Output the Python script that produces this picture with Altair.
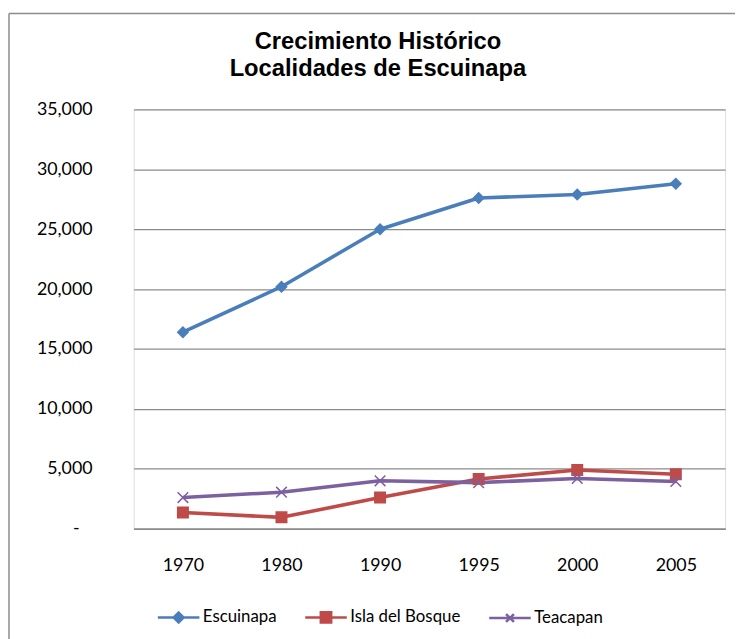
import altair as alt
import pandas as pd

years = ["1970", "1980", "1990", "1995", "2000", "2005"]
series_names = ["Escuinapa", "Isla del Bosque", "Teacapan"]
escuinapa = [16400, 20200, 25000, 27600, 27900, 28800]
isla_del_bosque = [1350, 950, 2600, 4150, 4900, 4550]
teacapan = [2600, 3050, 4000, 3850, 4200, 3950]
y_ticks = [0, 5000, 10000, 15000, 20000, 25000, 30000, 35000]

colors = ["#4A7EBB", "#BE4B48", "#7D60A0"]
marker_shapes = ["diamond", "square", "M-1,-1L1,1M-1,1L1,-1"]
marker_sizes = [110, 115, 150]
title_lines = ["Crecimiento Histórico", "Localidades de Escuinapa"]

rows = []
for name, vals in zip(series_names, [escuinapa, isla_del_bosque, teacapan]):
    for yr, v in zip(years, vals):
        rows.append({"Año": yr, "Localidad": name, "Marcador": name, "Población": v})
df = pd.DataFrame(rows)

W, H = 598, 424
PAD_L, PAD_T, PAD_R, PAD_B = 127, 99, 10, 108

color_scale = alt.Scale(domain=series_names, range=colors)

x_enc = alt.X("Año:O", sort=years, title=None,
              scale=alt.Scale(type="point", padding=0.5),
              axis=alt.Axis(labelAngle=0, ticks=False, grid=False, domain=True,
                            domainColor="#8c8c8c", domainWidth=1.3,
                            labelFont="Lato", labelFontSize=18, labelColor="#000",
                            labelPadding=28))
y_enc = alt.Y("Población:Q", title=None,
              scale=alt.Scale(domain=[0, 35000], nice=False, zero=True),
              axis=alt.Axis(values=y_ticks, grid=True, gridColor="#8c8c8c", gridWidth=1.3,
                            domain=False, ticks=False,
                            labelFont="Lato", labelFontSize=18, labelColor="#000",
                            labelPadding=42,
                            labelExpr="datum.value == 0 ? '-\u2800' : format(datum.value, ',')"))

leg_paths = {
    "Escuinapa": "M-1,0L1,0M0,-0.24L0.24,0L0,0.24L-0.24,0Z",
    "Isla del Bosque": "M-1,0L1,0M-0.25,-0.25L0.25,-0.25L0.25,0.25L-0.25,0.25Z",
    "Teacapan": "M-1,0L1,0M-0.19,-0.19L0.19,0.19M-0.19,0.19L0.19,-0.19",
}
shape_expr = ("datum.value === 'Escuinapa' ? '%s' : datum.value === 'Isla del Bosque' ? '%s' : '%s'"
              % (leg_paths["Escuinapa"], leg_paths["Isla del Bosque"], leg_paths["Teacapan"]))
color_expr = ("datum.value === 'Escuinapa' ? '%s' : datum.value === 'Isla del Bosque' ? '%s' : '%s'"
              % tuple(colors))

legend = alt.Legend(
    orient="none", legendX=23, legendY=491, direction="horizontal", title=None,
    symbolSize=1764, labelOffset=2, columnPadding=23, padding=0,
    labelFont="Lato", labelFontSize=17, labelColor="#000",
    symbolType={"expr": shape_expr},
    symbolFillColor={"expr": color_expr},
    symbolStrokeColor={"expr": color_expr},
    symbolStrokeWidth=2.5, symbolOpacity=1,
)

lines = alt.Chart(df).mark_line(strokeWidth=3.6, strokeJoin="round").encode(
    x=x_enc, y=y_enc,
    color=alt.Color("Localidad:N", scale=color_scale, legend=legend),
)

points = alt.Chart(df).mark_point(filled=True, opacity=1, strokeWidth=1.5).encode(
    x=x_enc, y=y_enc,
    color=alt.Color("Localidad:N", scale=color_scale, legend=None),
    stroke=alt.Stroke("Localidad:N", scale=color_scale, legend=None),
    shape=alt.Shape("Marcador:N", scale=alt.Scale(range=marker_shapes), legend=None),
    size=alt.Size("Marcador:N", scale=alt.Scale(range=marker_sizes), legend=None),
)

frame_df = pd.DataFrame({"k": [0]})
frame_left = alt.Chart(frame_df).mark_rule(color="#8c8c8c", strokeWidth=1.5).encode(
    x=alt.value(-126), y=alt.value(-97), y2=alt.value(H + PAD_B + 5))
frame_top = alt.Chart(frame_df).mark_rule(color="#8c8c8c", strokeWidth=1.5).encode(
    x=alt.value(-126), x2=alt.value(W + PAD_R + 5), y=alt.value(-97))

chart = alt.layer(frame_left, frame_top, lines, points).properties(
    width=W, height=H,
    padding={"left": PAD_L, "top": PAD_T, "right": PAD_R, "bottom": PAD_B},
    autosize=alt.AutoSizeParams(type="none"),
    title=alt.TitleParams(text=title_lines, font="Liberation Sans", fontSize=24,
                          fontWeight="bold", color="#000", anchor="middle",
                          frame="group", dx=-52, dy=89, offset=20, lineHeight=27),
).configure_view(stroke=None).configure(background="white")

chart.save("out.html", embed_options={"renderer": "svg", "actions": False})
